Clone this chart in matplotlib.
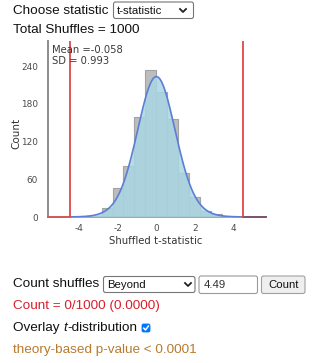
import math
import numpy as np
import matplotlib
matplotlib.use("Agg")
import matplotlib.pyplot as plt
from matplotlib.patches import FancyBboxPatch
from matplotlib.lines import Line2D

# ---------------- data ----------------
bin_edges = [-3.402, -2.835, -2.268, -1.701, -1.134, -0.567, 0.0,
             0.567, 1.134, 1.701, 2.268, 2.835, 3.402]
bin_counts = [2, 15, 46, 81, 159, 234, 199, 156, 70, 32, 10, 4]
n_shuffles = 1000
t_df = 20
observed = 4.49
x_ticks = [-4, -2, 0, 2, 4]
y_ticks = [0, 60, 120, 180, 240]
mean_txt = "Mean =-0.058"
sd_txt = "SD = 0.993"

W, H = 320, 363
fig = plt.figure(figsize=(W / 100, H / 100), dpi=100)
fig.patch.set_facecolor("white")


def fx(x):
    return x / W


def fy(y):
    return 1 - y / H


# ---------------- axes ----------------
ax_l, ax_r, ax_t, ax_b = 47.5, 266, 41, 217
ax = fig.add_axes([fx(ax_l), fy(ax_b), (ax_r - ax_l) / W, (ax_b - ax_t) / H])
ax.set_xlim(-5.63, 5.67)
ax.set_ylim(0, 280)

widths = np.diff(bin_edges)
ax.bar(bin_edges[:-1], bin_counts, width=widths, align="edge",
       color="#bdbdbd", edgecolor="#a3a3a3", linewidth=0.8, zorder=2)


def t_pdf(x, df):
    c = math.exp(math.lgamma((df + 1) / 2) - math.lgamma(df / 2)) / math.sqrt(df * math.pi)
    return c * (1 + x * x / df) ** (-(df + 1) / 2)


xs = np.linspace(-observed, observed, 400)
bw = widths[0]
ys = np.array([n_shuffles * bw * t_pdf(v, t_df) for v in xs])
ax.fill_between(xs, 0, ys, color="#a9d6e3", alpha=0.85, zorder=3, linewidth=0)
ax.plot(xs, ys, color="#5b7fd6", lw=1.2, zorder=4)
ax.plot([-5.63, -observed], [0, 0], color="#e05050", lw=1.2, zorder=5, clip_on=False)
ax.plot([observed, 5.67], [0, 0], color="#7a4a6a", lw=1.2, zorder=5, clip_on=False)

ax.axvline(-observed, color="#e04848", lw=1.3, zorder=6)
ax.axvline(observed, color="#e04848", lw=1.3, zorder=6)

for s in ["top", "right"]:
    ax.spines[s].set_visible(False)
for s in ["left", "bottom"]:
    ax.spines[s].set_color("#8c8c8c")
    ax.spines[s].set_linewidth(1.4)
ax.set_xticks(x_ticks)
ax.set_yticks(y_ticks)
ax.set_xticklabels([f"{v}" for v in x_ticks])
ax.tick_params(axis="both", length=0, labelsize=6.4, colors="#4a4a4a")
ax.tick_params(axis="x", pad=5)
ax.tick_params(axis="y", pad=6.8)
for lab in ax.get_yticklabels():
    lab.set_verticalalignment("center_baseline")

ax.text(0.02, 0.975, mean_txt + "\n" + sd_txt, transform=ax.transAxes,
        va="top", ha="left", fontsize=7.2, color="#3a3a3a", linespacing=1.1, zorder=7)

fig.text(fx(156), fy(241), "Shuffled t-statistic", ha="center", va="center",
         fontsize=7.3, color="#333333")
fig.text(fx(16.5), fy(133), "Count", ha="center", va="center", rotation=90,
         fontsize=7.5, color="#333333")

# ---------------- HTML-like widgets ----------------
SANS = ["Liberation Sans", "DejaVu Sans"]


def htext(x, y, s, size=9.7, color="#111111", **kw):
    return fig.text(fx(x), fy(y), s, ha=kw.pop("ha", "left"), va="center",
                    fontsize=size, color=color, family=SANS, zorder=20, **kw)


def box(x0, y0, x1, y1, face="white", edge="#767676", lw=0.8, r=2):
    p = FancyBboxPatch((fx(x0), fy(y1)), (x1 - x0) / W, (y1 - y0) / H,
                       boxstyle=f"round,pad=0,rounding_size={r / W}",
                       transform=fig.transFigure, facecolor=face, edgecolor=edge,
                       linewidth=lw, zorder=10)
    fig.patches.append(p)


def chevron(xc, yc):
    fig.lines.append(Line2D([fx(xc - 3), fx(xc), fx(xc + 3)],
                            [fy(yc - 1.5), fy(yc + 1.5), fy(yc - 1.5)],
                            transform=fig.transFigure, color="#222222", lw=1.3, zorder=21))


htext(13, 11, "Choose statistic")
box(113.5, 2, 193.5, 18.5)
htext(117, 10.5, "t-statistic", size=8.2)
chevron(183, 10.5)
htext(13, 30, "Total Shuffles = 1000")

htext(13, 284, "Count shuffles")
box(103.5, 276.5, 195, 292.5)
htext(107, 284.5, "Beyond", size=8.2)
chevron(188, 284.5)
box(199, 276, 257.5, 293.5, edge="#9a9a9a")
htext(204, 284.5, "4.49", size=8.2, color="#333333")
box(261.5, 276, 305, 293.5, face="#efefef", edge="#a0a0a0")
htext(283.3, 284.5, "Count", size=8.2, ha="center")

htext(13, 305.5, "Count = 0/1000 (0.0000)", color="#d8202c")

# "Overlay t-distribution" with italic t
r = fig.canvas.get_renderer()
t1 = htext(13, 328, "Overlay ")
bb = t1.get_window_extent(renderer=r)
t2 = htext(bb.x1, 328, "t", style="italic")
bb2 = t2.get_window_extent(renderer=r)
htext(bb2.x1 + 0.3, 328, "-distribution")
box(142, 324, 150, 332, face="#0075ff", edge="#0075ff", lw=0.6, r=1.5)
fig.lines.append(Line2D([fx(143.8), fx(145.5), fx(148.4)],
                        [fy(328.2), fy(330), fy(326)],
                        transform=fig.transFigure, color="white", lw=1.1, zorder=22))

htext(13, 349.5, "theory-based p-value < 0.0001", color="#b87a2e")

fig.savefig("out.png", dpi=100, facecolor="white")
